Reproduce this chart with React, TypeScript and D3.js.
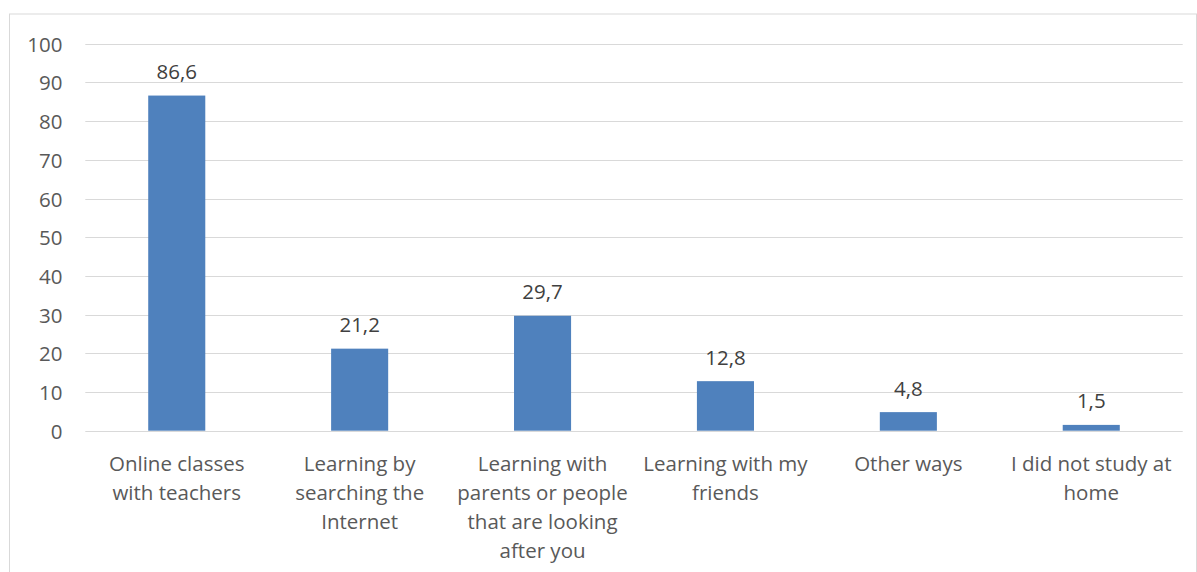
import React from "react";
import * as d3 from "d3";

const categories = [
  "Online classes with teachers",
  "Learning by searching the Internet",
  "Learning with parents or people that are looking after you",
  "Learning with my friends",
  "Other ways",
  "I did not study at home",
];
const categoryLines = [
  ["Online classes", "with teachers"],
  ["Learning by", "searching the", "Internet"],
  ["Learning with", "parents or people", "that are looking", "after you"],
  ["Learning with my", "friends"],
  ["Other ways"],
  ["I did not study at", "home"],
];
const values = [86.6, 21.2, 29.7, 12.8, 4.8, 1.5];
const yTicks = [0, 10, 20, 30, 40, 50, 60, 70, 80, 90, 100];

const W = 1197;
const H = 572;
const plotLeft = 85.3;
const plotRight = 1182.7;
const plotTop = 43.7;
const plotBottom = 430.7;
const FONT = "'Open Sans', 'Liberation Sans', sans-serif";
const FS = 20.5;

export default function App() {
  const x = d3
    .scaleBand<string>()
    .domain(categories)
    .range([plotLeft, plotRight])
    .paddingInner(0.688)
    .paddingOuter(0.344);
  const y = d3.scaleLinear().domain([0, 100]).range([plotBottom, plotTop]);
  const fmt = (v: number) => v.toFixed(1).replace(".", ",");

  return (
    <div style={{ position: "absolute", left: 0, top: 0, width: W, height: H, background: "#fff" }}>
      <svg width={W} height={H} style={{ display: "block" }} fontFamily={FONT}>
        <rect x={9.5} y={14} width={1187} height={600} fill="#fff" stroke="#d9d9d9" strokeWidth={1} />
        {yTicks.map((t) => (
          <g key={t}>
            <line
              x1={plotLeft}
              x2={plotRight}
              y1={Math.round(y(t)) + 0.5}
              y2={Math.round(y(t)) + 0.5}
              stroke="#d9d9d9"
              strokeWidth={1.2}
            />
            <text
              x={62.5}
              y={y(t)}
              textAnchor="end"
              dominantBaseline="central"
              fontSize={FS}
              fill="#595959"
            >
              {t}
            </text>
          </g>
        ))}
        {categories.map((c, i) => (
          <g key={c}>
            <rect
              x={x(c)!}
              y={y(values[i])}
              width={x.bandwidth()}
              height={y(0) - y(values[i])}
              fill="#4f81bd"
            />
            <text
              x={x(c)! + x.bandwidth() / 2}
              y={y(values[i]) - 16.5}
              textAnchor="middle"
              fontSize={FS}
              fill="#404040"
            >
              {fmt(values[i])}
            </text>
            <text
              x={x(c)! + x.bandwidth() / 2}
              y={471}
              textAnchor="middle"
              fontSize={FS}
              fill="#595959"
            >
              {categoryLines[i].map((l, j) => (
                <tspan key={j} x={x(c)! + x.bandwidth() / 2} dy={j === 0 ? 0 : 29}>
                  {l}
                </tspan>
              ))}
            </text>
          </g>
        ))}
      </svg>
    </div>
  );
}
